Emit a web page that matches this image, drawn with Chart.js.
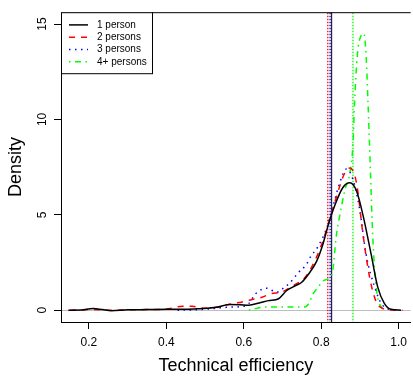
<!DOCTYPE html>
<html lang="en">
<head>
    <meta charset="UTF-8">
    <title>Technical efficiency density</title>
    <script src="https://cdn.jsdelivr.net/npm/chart.js"></script>
    <style>
        body { margin: 0; background: #fff; }
    </style>
</head>
<body>
    <canvas id="densityChart" width="413" height="377"></canvas>

    <script>
        // series
        const labels = ['1 person', '2 persons', '3 persons', '4+ persons'];

        const x1 = [0.147, 0.18, 0.211, 0.235, 0.258, 0.3, 0.35, 0.4, 0.45, 0.485, 0.53, 0.562, 0.59, 0.613, 0.64, 0.664, 0.69, 0.711, 0.733, 0.749, 0.767, 0.788, 0.805, 0.818, 0.835, 0.856, 0.874, 0.891, 0.908, 0.929, 0.946, 0.963, 0.98, 1.006];
        const y1 = [0, 0.01, 0.09, 0.03, -0.03, 0.02, 0.03, 0.05, 0.05, 0.08, 0.15, 0.3, 0.29, 0.26, 0.38, 0.5, 0.6, 1.03, 1.28, 1.45, 1.88, 2.56, 3.5, 4.46, 5.49, 6.43, 6.68, 6.26, 4.97, 2.92, 1.21, 0.36, 0.05, 0];

        const x2 = [0.151, 0.18, 0.211, 0.235, 0.258, 0.3, 0.35, 0.4, 0.442, 0.467, 0.5, 0.53, 0.57, 0.596, 0.62, 0.647, 0.672, 0.697, 0.72, 0.758, 0.775, 0.801, 0.818, 0.835, 0.861, 0.874, 0.891, 0.908, 0.925, 0.942, 0.96, 0.98, 1.01];
        const y2 = [0, 0.01, 0.04, 0.02, -0.01, 0.02, 0.03, 0.06, 0.2, 0.2, 0.1, 0.15, 0.34, 0.43, 0.55, 0.68, 0.87, 0.94, 1.2, 1.71, 2.24, 3.44, 4.5, 5.66, 7.2, 7.45, 6.68, 3.95, 1.73, 0.44, 0.08, 0.01, 0];

        const x3 = [0.429, 0.46, 0.5, 0.53, 0.555, 0.579, 0.6, 0.613, 0.63, 0.66, 0.685, 0.705, 0.72, 0.741, 0.762, 0.771, 0.792, 0.814, 0.831, 0.848, 0.865, 0.882, 0.899, 0.916, 0.938, 0.955, 0.975, 0.997];
        const y3 = [0, 0.01, 0.05, 0.1, 0.15, 0.17, 0.2, 0.35, 0.85, 1.15, 0.94, 1.2, 1.45, 1.97, 2.4, 2.75, 3.35, 4.29, 5.49, 6.68, 7.4, 6.85, 5.32, 2.92, 1.21, 0.36, 0.05, 0];

        const x4 = [0.613, 0.635, 0.656, 0.7, 0.733, 0.758, 0.768, 0.779, 0.792, 0.805, 0.813, 0.822, 0.83, 0.839, 0.848, 0.861, 0.874, 0.882, 0.886, 0.893, 0.903, 0.91, 0.916, 0.921, 0.927, 0.933, 0.942, 0.955, 0.97];
        const y4 = [0, 0.1, 0.17, 0.17, 0.17, 0.17, 0.35, 0.85, 1.2, 1.54, 1.6, 1.7, 2.1, 3.9, 4.97, 6.3, 7.2, 8.7, 10.8, 13.3, 14.4, 14.5, 13.3, 10.8, 7.35, 3.9, 1.2, 0.17, 0];

        // group means (vertical lines)
        const means = [0.827, 0.817, 0.823, 0.882];

        const xTicks = [0.2, 0.4, 0.6, 0.8, 1.0];
        const yTicks = [0, 5, 10, 15];

        const colors = ['#000000', '#ff0000', '#0000ff', '#00ff00'];
        const dashes = [[], [6, 6], [1.5, 4.5], [1.5, 4.5, 6, 4.5]];
        const meanDashes = [[], [1.5, 1.5], [1.5, 1.5], [1.5, 1.5]];

        const xs = [x1, x2, x3, x4];
        const ys = [y1, y2, y3, y4];

        const curves = labels.map((lab, i) => ({
            label: lab,
            data: xs[i].map((v, k) => ({ x: v, y: ys[i][k] })),
            borderColor: colors[i],
            borderWidth: 1.5,
            borderDash: dashes[i],
            pointRadius: 0,
            cubicInterpolationMode: 'monotone',
            fill: false
        }));

        const meanLines = means.map((m, i) => ({
            label: 'mean ' + labels[i],
            data: [{ x: m, y: -1 }, { x: m, y: 16 }],
            borderColor: colors[i],
            borderWidth: i === 0 ? 1 : 1.3,
            borderDash: meanDashes[i],
            pointRadius: 0,
            fill: false
        }));

        Chart.defaults.font.family = "'Liberation Sans', Arial, sans-serif";
        Chart.defaults.color = '#000';

        // box top edge + legend drawn in the plot corner like R's legend("topleft")
        const boxAndLegend = {
            id: 'boxAndLegend',
            afterDraw(chart) {
                const ctx = chart.ctx;
                const area = chart.chartArea;
                ctx.save();
                ctx.strokeStyle = '#000';
                ctx.lineWidth = 1;
                ctx.setLineDash([]);
                ctx.beginPath();
                ctx.moveTo(area.left, area.top + 0.5);
                ctx.lineTo(area.right, area.top + 0.5);
                ctx.stroke();

                const lx = area.left, ly = area.top;
                const lw = 91, lh = 61;
                ctx.fillStyle = '#fff';
                ctx.fillRect(lx, ly, lw, lh);
                ctx.strokeRect(lx + 0.5, ly + 0.5, lw, lh);

                ctx.font = "10px 'Liberation Sans', Arial, sans-serif";
                ctx.textBaseline = 'middle';
                ctx.textAlign = 'left';
                labels.forEach((lab, i) => {
                    const yy = ly + 12.7 + i * 12.3;
                    ctx.strokeStyle = colors[i];
                    ctx.lineWidth = 1.5;
                    ctx.setLineDash(dashes[i]);
                    ctx.beginPath();
                    ctx.moveTo(lx + 8, yy);
                    ctx.lineTo(lx + 27, yy);
                    ctx.stroke();
                    ctx.fillStyle = '#000';
                    ctx.fillText(lab, lx + 36, yy);
                });
                ctx.restore();
            }
        };

        const ctx = document.getElementById('densityChart').getContext('2d');
        const densityChart = new Chart(ctx, {
            type: 'line',
            data: { datasets: [...curves, ...meanLines] },
            options: {
                responsive: false,
                animation: false,
                layout: { padding: { top: 6, right: 0, left: 0, bottom: 0 } },
                plugins: {
                    legend: { display: false },
                    tooltip: { enabled: false }
                },
                scales: {
                    x: {
                        type: 'linear',
                        min: 0.128,
                        max: 1.031,
                        afterBuildTicks: (scale) => { scale.ticks = xTicks.map(v => ({ value: v })); },
                        afterFit: (scale) => { scale.height = 55; },
                        ticks: {
                            font: { size: 12 },
                            padding: 6,
                            maxRotation: 0,
                            callback: (v) => Number(v).toFixed(1)
                        },
                        grid: { drawOnChartArea: false, tickLength: 7, tickColor: '#000', tickWidth: 1 },
                        border: { display: true, color: '#000', width: 1 },
                        title: {
                            display: true,
                            text: 'Technical efficiency',
                            font: { size: 18 },
                            padding: { top: 3, bottom: 0 }
                        }
                    },
                    y: {
                        type: 'linear',
                        min: -0.62,
                        max: 15.62,
                        afterBuildTicks: (scale) => { scale.ticks = yTicks.map(v => ({ value: v })); },
                        afterFit: (scale) => { scale.width = 61; },
                        ticks: {
                            font: { size: 12 },
                            padding: 5,
                            minRotation: 90,
                            maxRotation: 90,
                            crossAlign: 'center',
                            callback: (v) => String(v)
                        },
                        grid: {
                            drawOnChartArea: true,
                            color: (c) => (c.tick && c.tick.value === 0 ? '#bebebe' : 'rgba(0,0,0,0)'),
                            tickLength: 7,
                            tickColor: '#000',
                            lineWidth: 1
                        },
                        border: { display: true, color: '#000', width: 1 },
                        title: {
                            display: true,
                            text: 'Density',
                            font: { size: 18 },
                            padding: { top: 5, bottom: 0 }
                        }
                    }
                }
            },
            plugins: [boxAndLegend]
        });
    </script>
</body>
</html>
